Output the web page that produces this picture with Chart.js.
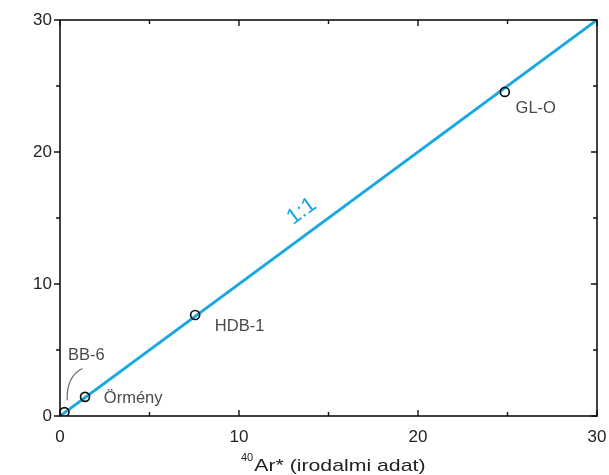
<!DOCTYPE html>
<html>
<head>
<meta charset="utf-8">
<script src="https://cdn.jsdelivr.net/npm/chart.js@4/dist/chart.umd.min.js"></script>
<style>
  body { margin:0; background:#fff; }
  #wrap { width:609px; height:475px; }
</style>
</head>
<body>
<div id="wrap"><canvas id="arChart" width="609" height="475"></canvas></div>
<script>
// samples: literature value (x) vs measured value (y)
var sample_names = ["BB-6", "Örmény", "HDB-1", "GL-O"];
var lit_values   = [0.25, 1.4, 7.55, 24.85];
var meas_values  = [0.3, 1.45, 7.65, 24.55];

// 1:1 reference line
var line_x = [0, 30];
var line_y = [0, 30];

var major_ticks = [0, 10, 20, 30];
var minor_ticks = [5, 15, 25];

// label anchors (data units), left aligned
var label_x = [0.45, 2.45, 8.65, 25.45];
var label_y = [4.6, 1.3, 6.75, 23.3];

var blue = "#1aa8e2";
var FONT = "'Liberation Sans', Arial, sans-serif";

function buildPoints(xs, ys){
  var list = [];
  for(var i=0;i<xs.length;i++){
    list.push({x:xs[i], y:ys[i]});
  }
  return list;
}

var decoPlugin = {
  id: "deco",
  afterDatasetsDraw: function(chart){
    var ctx = chart.ctx;
    var xs = chart.scales.x, ys = chart.scales.y;
    var a = chart.chartArea;
    ctx.save();
    // frame
    ctx.strokeStyle = "#111";
    ctx.lineWidth = 1.6;
    ctx.strokeRect(a.left, a.top, a.right - a.left, a.bottom - a.top);
    // tick marks
    ctx.lineWidth = 1.4;
    function tk(v, len){
      var px = xs.getPixelForValue(v);
      ctx.beginPath();
      ctx.moveTo(px, a.bottom); ctx.lineTo(px, a.bottom - len);
      ctx.moveTo(px, a.top); ctx.lineTo(px, a.top + len);
      ctx.stroke();
      var py = ys.getPixelForValue(v);
      ctx.beginPath();
      ctx.moveTo(a.left, py); ctx.lineTo(a.left - len, py);
      ctx.moveTo(a.right, py); ctx.lineTo(a.right - len, py);
      ctx.stroke();
    }
    for(var i=0;i<major_ticks.length;i++){ tk(major_ticks[i], 6); }
    for(var j=0;j<minor_ticks.length;j++){ tk(minor_ticks[j], 4); }

    // sample labels
    ctx.fillStyle = "#4a4a4a";
    ctx.font = "16.5px " + FONT;
    ctx.textAlign = "left";
    ctx.textBaseline = "middle";
    for(var k=0;k<sample_names.length;k++){
      ctx.fillText(sample_names[k], xs.getPixelForValue(label_x[k]), ys.getPixelForValue(label_y[k]));
    }
    // BB-6 leader
    ctx.strokeStyle = "#666";
    ctx.lineWidth = 1.2;
    ctx.beginPath();
    ctx.moveTo(xs.getPixelForValue(0.4), ys.getPixelForValue(1.2));
    ctx.quadraticCurveTo(xs.getPixelForValue(0.35), ys.getPixelForValue(3.0),
                         xs.getPixelForValue(1.25), ys.getPixelForValue(3.6));
    ctx.stroke();

    // 1:1 label
    var lx = xs.getPixelForValue(13.5), ly = ys.getPixelForValue(15.5);
    var ang = Math.atan2(ys.getPixelForValue(30) - ys.getPixelForValue(0),
                         xs.getPixelForValue(30) - xs.getPixelForValue(0));
    ctx.translate(lx, ly);
    ctx.rotate(ang);
    ctx.fillStyle = blue;
    ctx.font = "22px " + FONT;
    ctx.textAlign = "center";
    ctx.fillText("1:1", 0, 0);
    ctx.setTransform(1,0,0,1,0,0);

    // x title with superscript
    var ty = 471;
    var start = 241;
    ctx.fillStyle = "#222";
    ctx.textBaseline = "alphabetic";
    ctx.textAlign = "left";
    ctx.font = "11px " + FONT;
    var sup = "40";
    var sw = ctx.measureText(sup).width;
    ctx.fillText(sup, start, ty - 10);
    ctx.font = "17px " + FONT;
    ctx.translate(start + sw + 1, ty);
    ctx.scale(1.25, 1);
    ctx.fillText("Ar* (irodalmi adat)", 0, 0);
    ctx.setTransform(1,0,0,1,0,0);
    ctx.restore();
  }
};

var ctx = document.getElementById("arChart");
var chart = new Chart(ctx, {
  type: "scatter",
  data: {
    datasets: [{
      label: "samples",
      data: buildPoints(lit_values, meas_values),
      pointRadius: 4.5,
      pointBorderWidth: 1.7,
      pointBorderColor: "#111",
      pointBackgroundColor: "rgba(255,255,255,0)",
      order: 0
    },{
      type: "line",
      label: "1:1",
      data: buildPoints(line_x, line_y),
      borderColor: blue,
      borderWidth: 3,
      pointRadius: 0,
      fill: false,
      order: 1
    }]
  },
  options: {
    responsive: false,
    animation: false,
    layout: { padding: { top: 20, right: 12, left: 0, bottom: 0 } },
    plugins: { legend: { display: false }, tooltip: { enabled: false } },
    scales: {
      x: {
        type: "linear", min: 0, max: 30,
        afterFit: function(s){ s.height = 59; s.paddingLeft = 0; s.paddingRight = 0; },
        afterBuildTicks: function(s){ s.ticks = major_ticks.map(function(v){ return {value:v}; }); },
        grid: { display: false, drawTicks: false },
        border: { display: false },
        ticks: { padding: 11, color: "#222", font: { family: FONT, size: 17 } }
      },
      y: {
        type: "linear", min: 0, max: 30,
        afterFit: function(s){ s.width = 60; s.paddingTop = 0; s.paddingBottom = 0; },
        afterBuildTicks: function(s){ s.ticks = major_ticks.map(function(v){ return {value:v}; }); },
        grid: { display: false, drawTicks: false },
        border: { display: false },
        ticks: { padding: 8, color: "#222", font: { family: FONT, size: 17 } }
      }
    }
  },
  plugins: [decoPlugin]
});
</script>
</body>
</html>
